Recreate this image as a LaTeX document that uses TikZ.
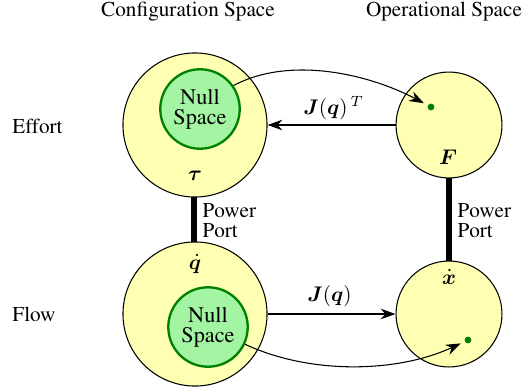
\documentclass[tikz,border=0pt]{standalone}
\usepackage{amsmath}
\usepackage{bm}
\usepackage[T1]{fontenc}
\usepackage{times}
\usetikzlibrary{arrows.meta}
\definecolor{spacefill}{HTML}{FFFFB3}
\definecolor{nullfill}{HTML}{A3F5A3}
\definecolor{nullline}{HTML}{008000}
\tikzset{
  bigspace/.style={circle, draw=black, line width=0.5pt, fill=spacefill, minimum size=68pt, inner sep=0pt},
  opspace/.style={circle, draw=black, line width=0.5pt, fill=spacefill, minimum size=50pt, inner sep=0pt},
  nullspace/.style={circle, draw=nullline, line width=1.1pt, fill=nullfill, minimum size=37.5pt, inner sep=0pt, align=center, font=\rmfamily\fontsize{10.5}{10.5}\selectfont},
  pointdot/.style={circle, fill=nullline, minimum size=3.2pt, inner sep=0pt},
  port/.style={line width=3.2pt},
  map/.style={-{Stealth[length=7pt, width=5pt]}, line width=0.5pt},
  plain/.style={font=\rmfamily\fontsize{10}{11.5}\selectfont},
  porttext/.style={plain, align=left, anchor=west, inner sep=1pt},
  var/.style={inner sep=1pt}
}
\begin{document}
\begin{tikzpicture}[x=0.472pt, y=-0.472pt]
  \useasboundingbox (0,0) rectangle (524,389);

  % column and row headings
  \node[plain] (hconf) at (188,12) {Configuration Space};
  \node[plain] (hop) at (444,12) {Operational Space};
  \node[plain, anchor=west] (heff) at (5,126) {Effort};
  \node[plain, anchor=west] (hflow) at (5,314) {Flow};

  % power port links (drawn first, under the circles)
  \coordinate (lp1) at (194,150);
  \coordinate (lp2) at (194,290);
  \coordinate (rp1) at (449,150);
  \coordinate (rp2) at (449,290);
  \draw[port] (lp1) -- (lp2);
  \draw[port] (rp1) -- (rp2);

  % configuration space (effort / flow)
  \node[bigspace] (ceff) at (195,125) {};
  \node[bigspace] (cflow) at (195,314) {};
  % operational space (effort / flow)
  \node[opspace] (oeff) at (449,125) {};
  \node[opspace] (oflow) at (449,314) {};

  % null spaces
  \node[nullspace] (ns1) at (200,109) {Null\\[-1pt]Space};
  \node[nullspace] (ns2) at (208,327) {Null\\[-1pt]Space};

  % variables
  \node[var] (tau) at (195,176) {$\bm{\tau}$};
  \node[var] (qd) at (195,264) {$\dot{\bm{q}}$};
  \node[var] (force) at (448,157) {$\bm{F}$};
  \node[var] (xd) at (449,277) {$\dot{\bm{x}}$};

  % points in operational space
  \node[pointdot] (dot1) at (431,107) {};
  \node[pointdot] (dot2) at (468,340) {};

  % port labels
  \node[porttext] (pl) at (200,221) {Power\\[-2pt]Port};
  \node[porttext] (pr) at (455,221) {Power\\[-2pt]Port};

  % mappings
  \draw[map] (oeff.west) -- node[above=-1pt, xshift=1pt] (jt) {$\bm{J}(\bm{q})^{\,T}$} (ceff.east);
  \draw[map] (cflow.east) -- node[above=0pt, xshift=-1pt] (jq) {$\bm{J}(\bm{q})$} (oflow.west);
  \draw[map, shorten >=2pt] (ns1.35) to[out=28, in=152, looseness=0.85] (dot1);
  \draw[map, shorten >=2pt] (ns2.-25) to[out=-25, in=205, looseness=0.85] (dot2);
\end{tikzpicture}
\end{document}
